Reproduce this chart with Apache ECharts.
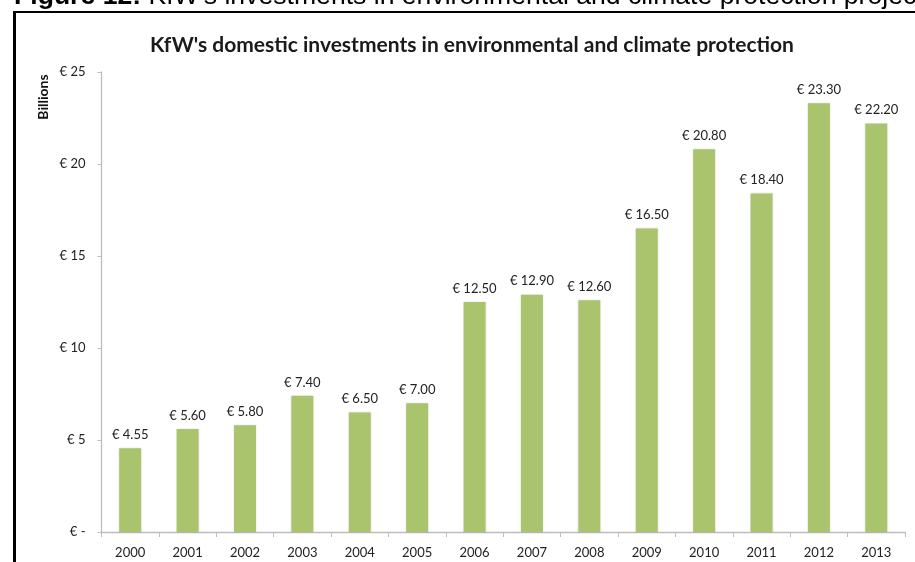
<!DOCTYPE html>
<html>
<head>
<meta charset="utf-8">
<script src="https://cdn.jsdelivr.net/npm/echarts@6/dist/echarts.min.js"></script>
<style>
html,body{margin:0;padding:0;background:#fff;}
#main{width:915px;height:562px;}
</style>
</head>
<body>
<div id="main"></div>
<script>
var years = ['2000','2001','2002','2003','2004','2005','2006','2007','2008','2009','2010','2011','2012','2013'];
var investments = [4.55, 5.60, 5.80, 7.40, 6.50, 7.00, 12.50, 12.90, 12.60, 16.50, 20.80, 18.40, 23.30, 22.20];
var yTicks = [0, 5, 10, 15, 20, 25];

var chart = echarts.init(document.getElementById('main'));
var labelFont = 'Lato, "Open Sans", sans-serif';
chart.setOption({
  animation: false,
  backgroundColor: '#ffffff',
  title: {
    text: "KfW's domestic investments in environmental and climate protection",
    left: 145,
    top: 30,
    textStyle: { fontFamily: labelFont, fontWeight: 'bold', fontSize: 21, color: '#1a1a1a' }
  },
  graphic: [
    {
      type: 'text', left: 14, top: -17,
      style: {
        text: "{b|Figure 12:} KfW's investments in environmental and climate protection projects",
        rich: { b: { fontWeight: 'bold', fontSize: 26.6, fontFamily: '"Liberation Sans", Arial, sans-serif', fill: '#000' } },
        fontSize: 26.6, fontFamily: '"Liberation Sans", Arial, sans-serif', fill: '#000'
      }
    },
    { type: 'line', shape: { x1: 13, y1: 12, x2: 915, y2: 12 }, style: { stroke: '#000', lineWidth: 2 } },
    { type: 'line', shape: { x1: 14.5, y1: 11, x2: 14.5, y2: 562 }, style: { stroke: '#000', lineWidth: 3 } },
    {
      type: 'text', x: 43, y: 97, rotation: Math.PI / 2,
      style: { text: 'Billions', fontFamily: labelFont, fontWeight: 'bold', fontSize: 14, fill: '#111', align: 'center', verticalAlign: 'middle' }
    }
  ],
  grid: { left: 101.5, right: 10, top: 72, bottom: 30, containLabel: false },
  xAxis: {
    type: 'category',
    data: years,
    boundaryGap: true,
    axisLine: { lineStyle: { color: '#bdbdbd', width: 1.3 } },
    axisTick: { show: true, length: 5, lineStyle: { color: '#bdbdbd' } },
    axisLabel: { color: '#222', fontFamily: labelFont, fontSize: 13, margin: 14 }
  },
  yAxis: {
    type: 'value',
    min: 0, max: 25, interval: 5,
    splitLine: { show: false },
    axisLine: { show: true, lineStyle: { color: '#bdbdbd', width: 1.3 } },
    axisTick: { show: true, length: 4, lineStyle: { color: '#bdbdbd' } },
    axisLabel: {
      color: '#222', fontFamily: labelFont, fontSize: 13, margin: 16,
      formatter: function (v) { return v === 0 ? '€ -' : '€ ' + v; }
    }
  },
  series: [{
    type: 'bar',
    data: investments,
    barWidth: 22,
    itemStyle: { color: '#A9C46C', shadowBlur: 2, shadowColor: 'rgba(0,0,0,0.12)' },
    label: {
      show: true, position: 'top', distance: 7,
      color: '#222', fontFamily: labelFont, fontSize: 13,
      formatter: function (p) { return '€ ' + p.value.toFixed(2); }
    }
  }]
});
</script>
</body>
</html>
